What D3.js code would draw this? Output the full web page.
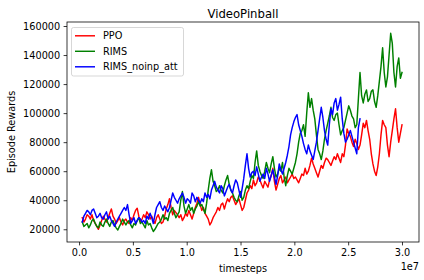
<!DOCTYPE html>
<html><head><meta charset="utf-8">
<script src="https://cdn.jsdelivr.net/npm/d3@7"></script>
<style>
body{margin:0;background:#fff;}
svg text{font-family:"DejaVu Sans",sans-serif;fill:#000;}
</style></head>
<body><svg id="chart" width="424" height="280"></svg>
<script>
// timesteps in units of 1e7
const timesteps = [
0.03,0.045,0.06,0.075,0.09,0.105,0.12,0.135,0.15,0.165,0.18,0.195,0.21,0.225,0.24,0.255,0.27,0.285,0.3,0.315,
0.33,0.345,0.36,0.375,0.39,0.405,0.42,0.435,0.45,0.465,0.48,0.495,0.51,0.525,0.54,0.555,0.57,0.585,0.6,0.615,
0.63,0.645,0.66,0.675,0.69,0.705,0.72,0.735,0.75,0.765,0.78,0.795,0.81,0.825,0.84,0.855,0.87,0.885,0.9,0.915,
0.93,0.945,0.96,0.975,0.99,1.005,1.02,1.035,1.05,1.065,1.08,1.095,1.11,1.125,1.14,1.155,1.17,1.185,1.2,1.215,
1.23,1.245,1.26,1.275,1.29,1.305,1.32,1.335,1.35,1.365,1.38,1.395,1.41,1.425,1.44,1.455,1.47,1.485,1.5,1.515,
1.53,1.545,1.56,1.575,1.59,1.605,1.62,1.635,1.65,1.665,1.68,1.695,1.71,1.725,1.74,1.755,1.77,1.785,1.8,1.815,
1.83,1.845,1.86,1.875,1.89,1.905,1.92,1.935,1.95,1.965,1.98,1.995,2.01,2.025,2.04,2.055,2.07,2.085,2.1,2.115,
2.13,2.145,2.16,2.175,2.19,2.205,2.22,2.235,2.25,2.265,2.28,2.295,2.31,2.325,2.34,2.355,2.37,2.385,2.4,2.415,
2.43,2.445,2.46,2.475,2.49,2.505,2.52,2.535,2.55,2.565,2.58,2.595,2.61,2.625,2.64,2.655,2.67,2.685,2.7,2.715,
2.73,2.745,2.76,2.775,2.79,2.805,2.82,2.835,2.85,2.865,2.88,2.895,2.91,2.925,2.94,2.955,2.97,2.985,3.0];

// episode rewards, in thousands
const ppoK = [28,25,27,30,29,27,30,26,24,22,20,23,26,29,27,25,28,31,34,29,27,24,26,28,25,23,26,27,25,24,
28,26,30,33,34.5,29,25,27,30,28,32,30,27,29,26,24,28,30,27,24,25,29,34,37,41,35,30,33,31.5,30,
28,30,26,28,31,29,33,30,27,31,35,38,42,37,33,35,31,29,27,23,25,28,30,32,35,33,37,38,34,38,
41,39,42,43,40,37,39,41,37,33,35,40,45,47,50,48,54,50,52,56,54,51,48.5,53,51,49,54,57,62,53,
47,51,55,57,52,54,56,52,54,56,58,55,56,54,52,55,58,57,62,58,60,64,69,65,62,59,56,60,64,62,
66,69,68,66,64,67,70,68,72,69,66,72,70,78,89,86,84,80,77,82,79,75,78,85,93,90,95,88,82,72,
65,60,57,63,72,85,95,92,90,78,70,80,88,96,103,90,80,86,92];

const rimsK = [25,22,23,24,21,23,26,27,24,22,21,25,23,22,25,27,24,22,25,26,23,21,19.5,22,24,27,25,23,25,26,
23,21,24,23,26,28,24,25,23,21,26,23,24,21,18.5,20,22,24,25,27,30,27,28,26,31,33,35,31,28,30,
32,40,46,36,31,34,37,33,35,31,34,36,39,36,37,34,31,38,47,55,61,53,50,46,47,50,47,45,50,54,
57,51,47,45,42,40,39,43,46,40,42,47,50,48,53,57,55,66,74,64,60,57,55,60,66,62,59,65,70,62,
56,58,62,60,66,56,50,57,62,60,58,62,66,72,80,86,88,92,84,100,114,104,110,102,96,85,75,72,68,74,
82,88,93,98,104,97,95,99,100,92,85,88,90,95,100,105,102,98,96,90,92,110,128,112,107,113,116,108,110,115,
116,108,104,112,122,132,145,128,118,125,140,155,148,128,118,132,138,124,128];

const rimsNoinpAttK = [25,29,31,33,32,30,33,34,31,28,29,31,28,27,30,32,27,29,26,24,22,25,27,29,31,33,35,33,37,30,
24,26,28,24,26,28,27,25,26,24,29,27,31,28,24,30,35,37,39,35,33,36,34,32,35,40,45,42,40,38,
41,43,45,42,38,41,40,38,45,43,39,42,40,38,41,39,45,42,44,41,47,50,53,49,47,45,50,48,43,46,
49,51,47,45,50,54,52,47,42,48,55,64,72,62,56,59,60,57,63,58,53,56,58,55,62,58,53,57,61,56,
51,57,65,61,58,62,66,71,77,85,90,94,97,99,92,88,84,79,75,72,78,74,71,68,74,80,88,96,104,97,
88,82,78,92,103,99,107,110,102,106,111,96,86,80,82,85,88,84,80,76,72,90,96];

const seriesNames = ["PPO","RIMS","RIMS_noinp_att"];
const seriesColors = ["#ff0000","#008000","#0000ff"];
const seriesValues = [ppoK, rimsK, rimsNoinpAttK];
const xTicks = [0.0,0.5,1.0,1.5,2.0,2.5,3.0];
const xTickLabels = ["0.0","0.5","1.0","1.5","2.0","2.5","3.0"];
const yTicksK = [20,40,60,80,100,120,140,160];
const yTickLabels = ["20000","40000","60000","80000","100000","120000","140000","160000"];
const title = "VideoPinball";
const xLabel = "timesteps";
const yLabel = "Episode Rewards";
const xOffsetLabel = "1e7";

const L = 67, R = 419, T = 22, B = 242;
const svg = d3.select("#chart");
const x = d3.scaleLinear().domain([-0.112, 3.158]).range([L, R]);
const y = d3.scaleLinear().domain([11.24, 162.76]).range([B, T]);

svg.append("defs").append("clipPath").attr("id","clip")
  .append("rect").attr("x",L).attr("y",T).attr("width",R-L).attr("height",B-T);

const line = d3.line().x(d => x(d[0])).y(d => y(d[1]));
const plot = svg.append("g").attr("clip-path","url(#clip)");
seriesValues.forEach((vals, k) => {
  const n = Math.min(vals.length, timesteps.length);
  const pts = vals.slice(0, n).map((v, i) => [timesteps[i], v]);
  plot.append("path").datum(pts)
    .attr("d", line).attr("fill","none")
    .attr("stroke", seriesColors[k]).attr("stroke-width",1.46)
    .attr("stroke-linejoin","round").attr("stroke-linecap","square");
});

const fs = 9.72;
const xAxis = d3.axisBottom(x).tickValues(xTicks).tickFormat((d,i)=>xTickLabels[i])
  .tickSizeInner(3.4).tickSizeOuter(0).tickPadding(3.4);
const yAxis = d3.axisLeft(y).tickValues(yTicksK).tickFormat((d,i)=>yTickLabels[i])
  .tickSizeInner(3.4).tickSizeOuter(0).tickPadding(3.4);
const gx = svg.append("g").attr("transform",`translate(0,${B})`).call(xAxis);
const gy = svg.append("g").attr("transform",`translate(${L},0)`).call(yAxis);
[gx,gy].forEach(g=>{
  g.select(".domain").remove();
  g.selectAll(".tick line").attr("stroke","#000").attr("stroke-width",0.78);
  g.selectAll(".tick text").attr("font-size",fs).attr("font-family","DejaVu Sans").attr("fill","#000");
});

svg.append("rect").attr("x",L).attr("y",T).attr("width",R-L).attr("height",B-T)
  .attr("fill","none").attr("stroke","#000").attr("stroke-width",0.78);

svg.append("text").attr("x",(L+R)/2).attr("y",17.5).attr("text-anchor","middle")
  .attr("font-size",11.67).text(title);
svg.append("text").attr("x",(L+R)/2).attr("y",271.5).attr("text-anchor","middle")
  .attr("font-size",fs).text(xLabel);
svg.append("text").attr("x",R).attr("y",270).attr("text-anchor","end")
  .attr("font-size",fs).text(xOffsetLabel);
svg.append("text").attr("transform",`translate(14.5,${(T+B)/2}) rotate(-90)`)
  .attr("text-anchor","middle").attr("font-size",fs).text(yLabel);

// legend
const lg = svg.append("g");
lg.append("rect").attr("x",71.5).attr("y",27.5).attr("width",112).attr("height",48.5)
  .attr("rx",2).attr("fill","#fff").attr("fill-opacity",0.8)
  .attr("stroke","#cccccc").attr("stroke-width",0.78);
seriesNames.forEach((n,k)=>{
  const yy = 35.8 + k*15.5;
  lg.append("line").attr("x1",75).attr("x2",95).attr("y1",yy).attr("y2",yy)
    .attr("stroke",seriesColors[k]).attr("stroke-width",1.46);
  lg.append("text").attr("x",103).attr("y",yy+3.5).attr("font-size",fs).text(n);
});
</script></body></html>
